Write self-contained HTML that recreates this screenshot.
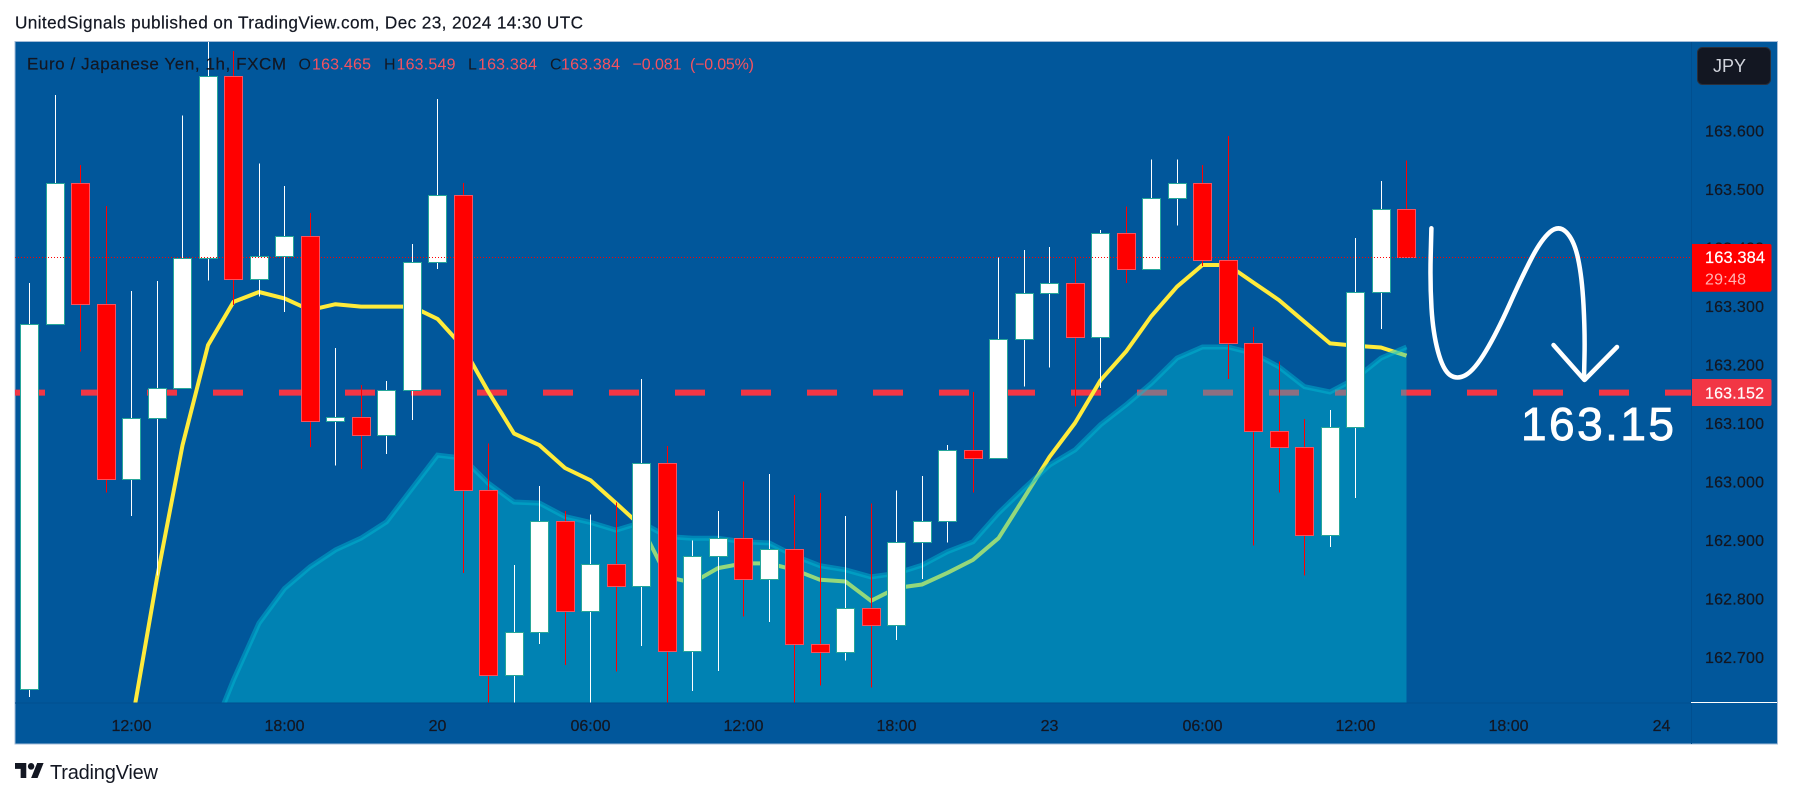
<!DOCTYPE html>
<html lang="en">
<head>
<meta charset="utf-8">
<title>EUR/JPY 1h chart</title>
<style>
html,body{margin:0;padding:0;background:#fff;}
body{width:1793px;height:798px;overflow:hidden;}
svg{display:block;font-family:"Liberation Sans",sans-serif;}
</style>
</head>
<body>
<svg id="chart" width="1793" height="798" viewBox="0 0 1793 798" xmlns="http://www.w3.org/2000/svg">
  <defs>
    <clipPath id="plot-clip"><rect x="15" y="42" width="1676" height="660.7"/></clipPath>
  </defs>
  <text x="15" y="28.5" font-size="17.2" fill="#131722" stroke="#131722" stroke-width="0.2" textLength="568" lengthAdjust="spacing">UnitedSignals published on TradingView.com, Dec 23, 2024 14:30 UTC</text>
  <rect x="15" y="41.5" width="1762.5" height="702.5" fill="#01579b" stroke="#a4bcd8" stroke-width="1"/>
  <g id="plot" clip-path="url(#plot-clip)"></g>
  <line x1="15" y1="703" x2="1691" y2="703" stroke="#014f8f" stroke-width="1"/>
  <line x1="1691.5" y1="42" x2="1691.5" y2="744" stroke="#014f8f" stroke-width="1"/>
  <line x1="1691" y1="702.5" x2="1777" y2="702.5" stroke="#ffffff" stroke-width="1"/>
  <g id="price-axis"></g>
  <g id="time-axis"></g>

  <g font-size="16" stroke-width="0.2">
    <text x="27" y="69.5" font-size="17" fill="#131722" stroke="#131722" textLength="259" lengthAdjust="spacing">Euro / Japanese Yen, 1h, FXCM</text>
    <text x="298.5" y="69.5" fill="#131722">O</text>
    <text x="312" y="69.5" fill="#f7525f" textLength="59" lengthAdjust="spacing">163.465</text>
    <text x="384" y="69.5" fill="#131722">H</text>
    <text x="396.5" y="69.5" fill="#f7525f" textLength="59" lengthAdjust="spacing">163.549</text>
    <text x="468" y="69.5" fill="#131722">L</text>
    <text x="478" y="69.5" fill="#f7525f" textLength="59" lengthAdjust="spacing">163.384</text>
    <text x="550" y="69.5" fill="#131722">C</text>
    <text x="561" y="69.5" fill="#f7525f" textLength="59" lengthAdjust="spacing">163.384</text>
    <text x="632.5" y="69.5" fill="#f7525f" textLength="49" lengthAdjust="spacing">−0.081</text>
    <text x="690" y="69.5" fill="#f7525f" textLength="64" lengthAdjust="spacing">(−0.05%)</text>
  </g>

  <g>
    <rect x="1697.5" y="47.5" width="73" height="37" rx="5" fill="#131722" stroke="#2a2e39"/>
    <text x="1713" y="72" font-size="18" fill="#d1d4dc" textLength="33" lengthAdjust="spacing">JPY</text>
  </g>

  <g>
    <path d="M1692 244H1769.5a2 2 0 0 1 2 2V289.7a2 2 0 0 1 -2 2H1692Z" fill="#ff0000"/>
    <text x="1705" y="263" font-size="16.5" fill="#ffffff" stroke="#ffffff" stroke-width="0.2" textLength="60" lengthAdjust="spacing">163.384</text>
    <text x="1705" y="284.5" font-size="16" fill="#ffb3b3" textLength="41" lengthAdjust="spacing">29:48</text>
  </g>
  <g>
    <path d="M1692 379H1769.5a2 2 0 0 1 2 2V404a2 2 0 0 1 -2 2H1692Z" fill="#f23645"/>
    <text x="1705" y="398.5" font-size="16" fill="#ffffff" stroke="#ffffff" stroke-width="0.2" textLength="59" lengthAdjust="spacing">163.152</text>
  </g>

  <g fill="none" stroke="#ffffff" stroke-width="4.5" stroke-linecap="round" stroke-linejoin="round">
    <path d="M1431.4 228.3L1430.7 255.6Q1430 283 1431.5 308Q1433 333 1438 351.5Q1443 370 1450 375Q1457 380 1465.8 375Q1474.5 370 1485.6 351.5Q1496.7 333 1509.3 304.9Q1522 276.7 1531.5 258.3Q1541 240 1549.8 232.2Q1558.7 224.5 1566.3 232.2Q1574 240 1578 258.3Q1582 276.7 1583.5 304.9Q1585 333 1584.5 355.5L1584 378"/>
    <path d="M1553.5 345L1584.5 380L1617 347"/>
  </g>
  <text x="1521" y="440" font-size="46" fill="#ffffff" stroke="#ffffff" stroke-width="0.9" textLength="153" lengthAdjust="spacing">163.15</text>

  <g>
    <svg x="15" y="763" width="29" height="15" viewBox="0 4 36 18" preserveAspectRatio="none">
      <path fill="#131722" d="M14 22H7V11H0V4h14v18zM28 22h-8l7.5-18h8L28 22z"/>
      <circle fill="#131722" cx="20" cy="8" r="4"/>
    </svg>
    <text x="50" y="779" font-size="20" fill="#131722" textLength="108" lengthAdjust="spacing">TradingView</text>
  </g>
</svg>

<script>
const candleOpen = [162.645,163.270,163.510,163.303,163.005,163.108,163.159,163.382,163.694,163.347,163.386,163.420,163.104,163.110,163.079,163.157,163.376,163.489,162.985,162.669,162.742,162.933,162.778,162.859,162.821,163.031,162.710,162.873,162.904,162.833,162.885,162.722,162.708,162.783,162.754,162.896,162.933,163.053,163.041,163.244,163.322,163.340,163.247,163.424,163.364,163.484,163.511,163.378,163.236,163.086,163.059,162.908,163.093,163.324,163.465];
const candleHigh = [163.339,163.661,163.541,163.471,163.326,163.343,163.626,163.770,163.736,163.544,163.505,163.459,163.228,163.165,163.172,163.406,163.654,163.510,163.065,162.857,162.992,162.950,162.944,162.964,163.175,163.061,162.899,162.950,163.000,163.013,162.977,162.980,162.941,162.962,162.985,163.009,163.062,163.153,163.383,163.396,163.401,163.383,163.430,163.470,163.550,163.550,163.541,163.591,163.264,163.205,163.107,163.122,163.416,163.514,163.549];
const candleLow = [162.632,163.270,163.222,162.981,162.941,162.839,163.159,163.344,163.302,163.316,163.290,163.059,163.027,163.021,163.047,163.105,163.363,162.844,162.600,162.600,162.722,162.686,162.600,162.675,162.719,162.600,162.642,162.676,162.769,162.760,162.600,162.651,162.694,162.648,162.729,162.833,162.896,162.981,163.041,163.162,163.195,163.128,163.160,163.339,163.364,163.438,163.368,163.175,162.891,162.981,162.839,162.888,162.972,163.261,163.384];
const candleClose = [163.270,163.510,163.303,163.005,163.108,163.159,163.382,163.694,163.347,163.386,163.420,163.104,163.110,163.079,163.157,163.376,163.489,162.985,162.669,162.742,162.933,162.778,162.859,162.821,163.031,162.710,162.873,162.904,162.833,162.885,162.722,162.708,162.783,162.754,162.896,162.933,163.053,163.041,163.244,163.322,163.340,163.247,163.424,163.364,163.484,163.511,163.378,163.236,163.086,163.059,162.908,163.093,163.324,163.465,163.384];

const movingAverageStart = 4;
const movingAverage = [162.584,162.835,163.062,163.233,163.307,163.324,163.313,163.293,163.303,163.299,163.299,163.299,163.278,163.230,163.153,163.082,163.062,163.023,163.002,162.963,162.923,162.837,162.827,162.852,162.860,162.860,162.849,162.832,162.829,162.796,162.818,162.824,162.844,162.866,162.903,162.972,163.042,163.100,163.173,163.222,163.283,163.333,163.370,163.370,163.340,163.310,163.273,163.236,163.232,163.229,163.215];

const areaStart = 7;
const areaSeries = [162.553,162.661,162.758,162.817,162.854,162.883,162.903,162.931,162.988,163.045,163.040,162.997,162.965,162.963,162.940,162.930,162.917,162.930,162.906,162.903,162.903,162.897,162.895,162.873,162.856,162.849,162.837,162.843,162.857,162.880,162.897,162.946,162.988,163.028,163.054,163.097,163.131,163.168,163.211,163.230,163.230,163.219,163.196,163.162,163.153,163.176,163.211,163.230];

const priceTicks = [163.600,163.500,163.400,163.300,163.200,163.100,163.000,162.900,162.800,162.700];
const timeTickLabels = ['12:00','18:00','20','06:00','12:00','18:00','23','06:00','12:00','18:00','24'];
const timeTickBars = [4,10,16,22,28,34,40,46,52,58,64];
const lastPrice = 163.384;
const targetPrice = 163.152;

const NS = 'http://www.w3.org/2000/svg';
const plotBottom = 702.7;
const plotLeft = 15;
const plotRight = 1691;
function xAxis(i) { return 29.5 + 25.5 * i; }
function yAxis(p) { return 130.5 + (163.6 - p) * 585; }
function make(tag, parent) {
  const el = document.createElementNS(NS, tag);
  parent.appendChild(el);
  return el;
}
function linePath(values, start) {
  return values.map(function (v, k) {
    return (k ? 'L' : 'M') + xAxis(start + k).toFixed(1) + ' ' + yAxis(v).toFixed(1);
  }).join('');
}

const plot = document.getElementById('plot');

const targetLine = make('line', plot);


targetLine.setAttribute('x1', plotLeft);
targetLine.setAttribute('x2', plotRight);
targetLine.setAttribute('y1', yAxis(targetPrice));
targetLine.setAttribute('y2', yAxis(targetPrice));
targetLine.setAttribute('stroke', '#f23645');
targetLine.setAttribute('stroke-width', '6');
targetLine.setAttribute('stroke-dasharray', '30 36');

const maLine = make('path', plot);


maLine.setAttribute('d', linePath(movingAverage, movingAverageStart));
maLine.setAttribute('fill', 'none');
maLine.setAttribute('stroke', '#ffeb3b');
maLine.setAttribute('stroke-width', '4');
maLine.setAttribute('stroke-linejoin', 'round');

const lastArea = areaStart + areaSeries.length - 1;
const areaFill = make('path', plot);


areaFill.setAttribute('d', linePath(areaSeries, areaStart) + 'L' + xAxis(lastArea) + ' ' + plotBottom + 'L' + xAxis(areaStart) + ' ' + plotBottom + 'Z');
areaFill.setAttribute('fill', 'rgba(0,190,213,0.42)');

const areaEdge = make('path', plot);


areaEdge.setAttribute('d', linePath(areaSeries, areaStart));
areaEdge.setAttribute('fill', 'none');
areaEdge.setAttribute('stroke', 'rgba(0,190,213,0.45)');
areaEdge.setAttribute('stroke-width', '5');

candleOpen.forEach(function (open, i) {
  const close = candleClose[i];
  const up = close >= open;
  const cx = Math.floor(xAxis(i)) + 0.5;
  const top = Math.round(yAxis(Math.max(open, close))) + 0.5;
  const bottom = Math.round(yAxis(Math.min(open, close))) + 0.5;

  const wick = make('line', plot);
  
  
  wick.setAttribute('x1', cx);
  wick.setAttribute('x2', cx);
  wick.setAttribute('y1', yAxis(candleHigh[i]).toFixed(1));
  wick.setAttribute('y2', yAxis(candleLow[i]).toFixed(1));
  wick.setAttribute('stroke', up ? '#ffffff' : '#ff0000');
  wick.setAttribute('stroke-width', '1');
  wick.setAttribute('shape-rendering', 'crispEdges');

  const body = make('rect', plot);
  
  
  body.setAttribute('x', cx - 9);
  body.setAttribute('y', top);
  body.setAttribute('width', 18);
  body.setAttribute('height', Math.max(bottom - top, 1));
  body.setAttribute('fill', up ? '#ffffff' : '#ff0000');
  body.setAttribute('stroke', up ? '#26a69a' : '#f7525f');
  body.setAttribute('stroke-width', '1');
  body.setAttribute('shape-rendering', 'crispEdges');
});

const lastLine = make('line', plot);


lastLine.setAttribute('x1', plotLeft);
lastLine.setAttribute('x2', plotRight);
lastLine.setAttribute('y1', Math.round(yAxis(lastPrice)) + 0.5);
lastLine.setAttribute('y2', Math.round(yAxis(lastPrice)) + 0.5);
lastLine.setAttribute('stroke', '#ff0000');
lastLine.setAttribute('stroke-width', '1');
lastLine.setAttribute('stroke-dasharray', '1 2');

const priceAxis = document.getElementById('price-axis');
priceTicks.forEach(function (p) {
  const label = make('text', priceAxis);
  
  
  label.setAttribute('x', 1705);
  label.setAttribute('y', yAxis(p) + 5.8);
  label.setAttribute('font-size', '16');
  label.setAttribute('fill', '#131722');
  label.setAttribute('stroke', '#131722');
  label.setAttribute('stroke-width', '0.25');
  label.setAttribute('textLength', '59');
  label.textContent = p.toFixed(3);
});

const timeAxis = document.getElementById('time-axis');
timeTickLabels.forEach(function (t, k) {
  const label = make('text', timeAxis);
  
  
  label.setAttribute('x', xAxis(timeTickBars[k]));
  label.setAttribute('y', 731);
  label.setAttribute('font-size', '16');
  label.setAttribute('fill', '#131722');
  label.setAttribute('stroke', '#131722');
  label.setAttribute('stroke-width', '0.25');
  label.setAttribute('text-anchor', 'middle');
  label.textContent = t;
});
</script>
</body>
</html>
